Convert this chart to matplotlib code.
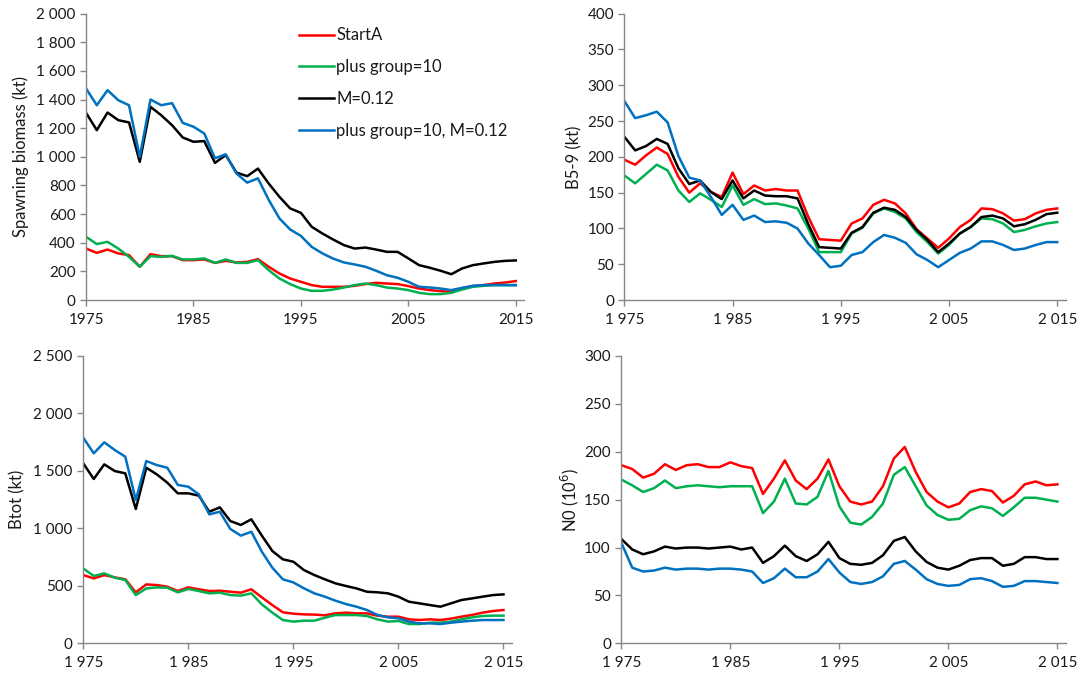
import numpy as np
import matplotlib.pyplot as plt
from matplotlib.ticker import FuncFormatter

# years of the assessment
years = np.arange(1975, 2016)

# Spawning biomass (kt)
ssb_startA = [360, 330, 353, 326, 314, 233, 321, 307, 307, 279, 279, 284, 260, 274, 263, 267, 286, 233, 186, 151,
              128, 105, 93, 93, 93, 100, 112, 121, 116, 112, 98, 81, 70, 63, 58, 81, 98, 105, 116, 123, 133]
ssb_plus10 = [442, 391, 407, 360, 302, 233, 307, 302, 309, 284, 284, 291, 260, 284, 260, 260, 279, 209, 151, 112,
              81, 65, 65, 74, 88, 105, 116, 105, 88, 81, 70, 51, 42, 42, 51, 74, 93, 100, 105, 105, 105]
ssb_m012 = [1307, 1186, 1309, 1256, 1240, 965, 1349, 1290, 1221, 1135, 1105, 1110, 958, 1012, 890, 865, 918, 814,
            721, 640, 609, 512, 465, 423, 384, 360, 367, 353, 337, 337, 291, 244, 226, 205, 181, 221, 244, 256,
            267, 274, 277]
ssb_plus10_m012 = [1477, 1360, 1465, 1395, 1360, 1000, 1400, 1360, 1375, 1237, 1210, 1163, 990, 1018, 884, 820,
                   850, 700, 570, 493, 448, 372, 326, 290, 263, 249, 233, 205, 174, 156, 128, 93, 88, 81, 70, 86,
                   100, 105, 105, 105, 105]

# B5-9 (kt)
b59_startA = [196, 189, 202, 213, 204, 172, 150, 163, 151, 144, 178, 148, 160, 153, 155, 153, 153, 116, 85, 84,
              83, 107, 114, 133, 140, 135, 121, 99, 86, 73, 86, 102, 112, 128, 127, 121, 111, 113, 121, 126, 128]
b59_plus10 = [174, 163, 176, 189, 181, 153, 137, 149, 140, 130, 160, 133, 141, 134, 135, 132, 128, 100, 67, 67,
              67, 93, 101, 121, 128, 123, 114, 95, 81, 65, 77, 93, 102, 114, 113, 107, 95, 98, 103, 107, 109]
b59_m012 = [228, 209, 215, 225, 218, 184, 162, 167, 151, 141, 167, 142, 153, 146, 145, 145, 142, 106, 74, 73,
            72, 94, 102, 122, 129, 126, 116, 98, 84, 67, 79, 93, 102, 116, 118, 114, 103, 106, 112, 120, 122]
b59_plus10_m012 = [278, 254, 258, 263, 248, 201, 171, 167, 144, 119, 133, 112, 118, 109, 110, 108, 100, 79, 63,
                   46, 48, 63, 67, 81, 91, 87, 80, 64, 56, 46, 56, 66, 72, 82, 82, 77, 70, 72, 77, 81, 81]

# Btot (kt)
btot_startA = [594, 565, 594, 574, 557, 444, 513, 507, 493, 455, 487, 470, 455, 458, 449, 441, 470, 400, 333, 270,
               258, 252, 250, 244, 261, 267, 261, 261, 241, 232, 232, 209, 203, 209, 203, 215, 232, 247, 267, 281, 290]
btot_plus10 = [652, 586, 609, 571, 551, 420, 478, 487, 484, 444, 473, 455, 435, 441, 420, 415, 435, 339, 267, 203,
               189, 197, 197, 223, 246, 246, 246, 238, 209, 189, 194, 168, 168, 180, 180, 189, 209, 226, 238, 241, 241]
btot_m012 = [1566, 1430, 1557, 1499, 1479, 1169, 1528, 1470, 1398, 1305, 1305, 1285, 1145, 1183, 1064, 1030, 1079,
             937, 803, 731, 710, 638, 594, 557, 522, 499, 478, 449, 444, 435, 406, 362, 348, 333, 319, 348, 377,
             391, 406, 420, 426]
btot_plus10_m012 = [1789, 1653, 1749, 1682, 1624, 1247, 1586, 1551, 1528, 1378, 1363, 1296, 1122, 1145, 995, 937,
                    971, 797, 658, 557, 530, 479, 435, 406, 371, 342, 319, 290, 247, 226, 218, 189, 174, 174, 168,
                    180, 189, 197, 203, 203, 203]

# N0 (10^6)
n0_startA = [186, 182, 173, 177, 187, 181, 186, 187, 184, 184, 189, 185, 183, 156, 172, 191, 170, 161, 172, 192,
             164, 148, 145, 148, 164, 193, 205, 179, 158, 148, 142, 146, 158, 161, 159, 147, 154, 166, 169, 165, 166]
n0_plus10 = [171, 165, 158, 162, 170, 162, 164, 165, 164, 163, 164, 164, 164, 136, 148, 172, 146, 145, 153, 180,
             143, 126, 124, 132, 146, 176, 184, 164, 144, 134, 129, 130, 139, 143, 141, 133, 142, 152, 152, 150, 148]
n0_m012 = [109, 98, 93, 96, 101, 99, 100, 100, 99, 100, 101, 98, 100, 84, 91, 102, 91, 86, 93, 106,
           89, 83, 82, 84, 92, 107, 111, 96, 85, 79, 77, 81, 87, 89, 89, 81, 83, 90, 90, 88, 88]
n0_plus10_m012 = [105, 79, 75, 76, 79, 77, 78, 78, 77, 78, 78, 77, 75, 63, 68, 78, 69, 69, 75, 88,
                  74, 64, 62, 64, 70, 83, 86, 77, 67, 62, 60, 61, 67, 68, 65, 59, 60, 65, 65, 64, 63]

run_names = ["StartA", "plus group=10", "M=0.12", "plus group=10, M=0.12"]
run_colors = ["#FF0000", "#00B050", "#000000", "#0070C0"]

plt.rcParams['font.family'] = ['Lato', 'DejaVu Sans']
plt.rcParams['font.size'] = 11

axis_grey = "#868686"
text_col = "#1a1a1a"


def space_thousands(v, pos):
    s = "{:,.0f}".format(v)
    return s.replace(",", " ")


def style_axis(ax, ymax, ystep, ylabel, space_years=True):
    ax.set_xlim(1975, 2015.8)
    ax.set_ylim(0, ymax)
    ax.set_xticks([1975, 1985, 1995, 2005, 2015])
    ax.set_yticks(np.arange(0, ymax + 1, ystep))
    ax.yaxis.set_major_formatter(FuncFormatter(space_thousands))
    if space_years:
        ax.xaxis.set_major_formatter(FuncFormatter(space_thousands))
    else:
        ax.xaxis.set_major_formatter(FuncFormatter(lambda v, p: "{:.0f}".format(v)))
    for side in ["top", "right"]:
        ax.spines[side].set_visible(False)
    for side in ["left", "bottom"]:
        ax.spines[side].set_color(axis_grey)
        ax.spines[side].set_linewidth(1.0)
    ax.tick_params(direction="out", length=4, width=1, color=axis_grey, labelcolor=text_col, labelsize=11)
    ax.tick_params(axis="x", pad=5)
    ax.set_ylabel(ylabel, fontsize=12, color=text_col)


fig = plt.figure(figsize=(10.77, 6.76), dpi=100)

ax1 = fig.add_axes([0.0799, 0.556, 0.407, 0.424])
ax2 = fig.add_axes([0.5797, 0.556, 0.410, 0.424])
ax3 = fig.add_axes([0.0773, 0.0483, 0.398, 0.4251])
ax4 = fig.add_axes([0.5769, 0.0483, 0.413, 0.4251])

panels = [
    (ax1, [ssb_startA, ssb_plus10, ssb_m012, ssb_plus10_m012], 2000, 200, "Spawning biomass (kt)", False),
    (ax2, [b59_startA, b59_plus10, b59_m012, b59_plus10_m012], 400, 50, "B5-9 (kt)", True),
    (ax3, [btot_startA, btot_plus10, btot_m012, btot_plus10_m012], 2500, 500, "Btot (kt)", True),
    (ax4, [n0_startA, n0_plus10, n0_m012, n0_plus10_m012], 300, 50, "N0 (10$^{6}$)", True),
]

for ax, series, ymax, ystep, ylab, sp in panels:
    for vals, name, col in zip(series, run_names, run_colors):
        ax.plot(years, vals, color=col, lw=1.8, label=name)
    style_axis(ax, ymax, ystep, ylab, sp)

ax1.yaxis.set_label_coords(-0.13, 0.5)
ax2.yaxis.set_label_coords(-0.095, 0.5)
ax3.yaxis.set_label_coords(-0.135, 0.5)
ax4.yaxis.set_label_coords(-0.09, 0.5)

leg = ax1.legend(loc="upper left", bbox_to_anchor=(0.47, 0.975), frameon=False, fontsize=12,
                 handlelength=2.1, handletextpad=0.15, labelspacing=0.95, borderaxespad=0)
for t in leg.get_texts():
    t.set_color(text_col)

plt.savefig("out.png", dpi=100)
